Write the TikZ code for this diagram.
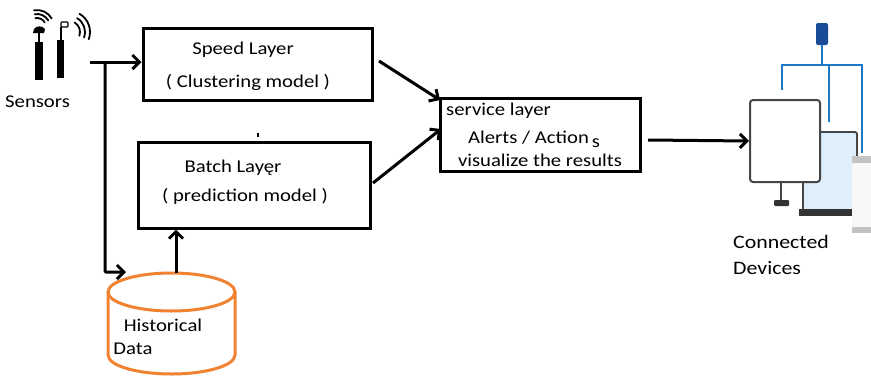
\documentclass[tikz,border=0pt]{standalone}
\usepackage{fontspec}
\setmainfont{Carlito}[FakeStretch=1.15]
\usetikzlibrary{arrows.meta}
\definecolor{dbOrange}{RGB}{240,130,50}
\definecolor{netBlue}{RGB}{30,120,200}
\definecolor{devBlue}{RGB}{25,75,150}
\definecolor{lapFill}{RGB}{222,238,250}
\definecolor{frameGray}{RGB}{70,70,70}
\definecolor{tabGray}{RGB}{195,195,195}
\begin{document}
\begin{tikzpicture}[x=1pt,y=-1pt,
  layerbox/.style={draw,line width=3pt,inner sep=0pt},
  txt/.style={inner sep=0pt,font=\fontsize{18}{20}\selectfont},
  devtxt/.style={inner sep=0pt,anchor=west,font=\fontsize{19}{21}\selectfont},
  arr/.style={line width=3pt,-{Straight Barb[length=7pt,width=14pt,line width=3pt]}},
  wave/.style={line width=1.8pt,line cap=round}]
\useasboundingbox (0,0) rectangle (871,378);

% sensors
\fill (35,42) rectangle (43,80);
\fill (57,40) rectangle (64,78);
\draw[line width=1.5pt] (39,42) -- (39,32);
\fill (33,33) -- (34,29) .. controls (36,26) and (42,25) .. (45,29) -- (44,33) -- cycle;
\draw[line width=1.5pt] (61,40) -- (61,27);
\draw[line width=1.4pt,rounded corners=1pt] (61,22) rectangle (68,27);
\foreach \r in {9,13,17} \draw[wave] (37,27) ++(30:\r pt) arc[start angle=30,end angle=100,radius=\r pt];
\foreach \r in {11,16,21} \draw[wave] (69,32) ++(-20:\r pt) arc[start angle=-20,end angle=60,radius=\r pt];
\node[txt,anchor=west] (sens) at (5,102) {Sensors};

% processing layers
\node[layerbox,minimum width=229pt,minimum height=72pt] (speed) at (257.5,64) {};
\node[txt] (speedA) at (243,50) {Speed Layer};
\node[txt] (speedB) at (248,82) {( Clustering model )};

\node[layerbox,minimum width=232pt,minimum height=86pt] (batch) at (254,185) {};
\node[txt] (batchA) at (233,168) {Batch Layęr};
\node[txt] (batchB) at (245,196) {( prediction model )};
\draw[line width=2pt] (258,133) -- (258,137);

\node[layerbox,minimum width=200pt,minimum height=73pt] (serv) at (540,134.5) {};
\node[txt,anchor=west] (servA) at (446,111) {service layer};
\node[txt,anchor=west] (servB) at (468,139) {Alerts / Action\,\raisebox{-4pt}{s}};
\node[txt] (servC) at (540,160) {visualize the results};

% historical data store
\node[minimum width=127pt,minimum height=101pt,inner sep=0pt] (hist) at (171.5,323.5) {};
\draw[dbOrange,line width=3pt] (108,292) -- (108,355) arc[start angle=180,end angle=360,x radius=63.5pt,y radius=19pt] -- (235,292);
\draw[dbOrange,line width=3pt] (171.5,292) ellipse[x radius=63.5pt,y radius=19pt];
\node[txt] (histA) at (163,325) {Historical};
\node[txt] (histB) at (133,349) {Data};

% data flow
\coordinate (sj) at (90,62);
\coordinate (sv) at (105,62);
\coordinate (hin) at (126,272);
\draw[line width=3pt] (sj) -- (sv);
\draw[arr] (sv) -- (sv -| speed.west);
\draw[arr,rounded corners=1pt] (sv) |- (hin);
\draw[arr] (176,273) -- (batch.south -| 176,0);
\draw[arr] (379,61) -- (440,100);
\draw[arr] (373,183) -- (441,129);

% connected devices
\draw[netBlue,line width=2pt] (822,44) -- (822,65);
\draw[netBlue,line width=2pt] (782,90) -- (782,65) -- (862,65) -- (862,153);
\draw[netBlue,line width=2pt] (829,65) -- (829,122);
\fill[devBlue,rounded corners=2pt] (816,23) rectangle (828,45);

\fill[lapFill] (802,132) rectangle (857,209);
\draw[frameGray,line width=1.8pt,rounded corners=2pt] (803,210) -- (803,132) -- (857,132) -- (857,209);
\fill[black!80] (799,209) rectangle (853,216);

\node[draw=frameGray,fill=white,line width=2pt,rounded corners=3pt,minimum width=70pt,minimum height=82pt,inner sep=0pt] (mon) at (785,141) {};
\draw[frameGray,line width=2pt] (781,182) -- (781,201);
\fill[black!80,rounded corners=1pt] (774,200) rectangle (789,206);

\fill[black!3] (852,156) rectangle (871,233);
\fill[tabGray] (852,156) rectangle (871,163);
\fill[tabGray] (852,227) rectangle (871,233);

\draw[arr] (648,140) -- (mon.west);

\node[devtxt] (conA) at (733,242) {Connected};
\node[devtxt] (conB) at (733,268) {Devices};
\end{tikzpicture}
\end{document}
